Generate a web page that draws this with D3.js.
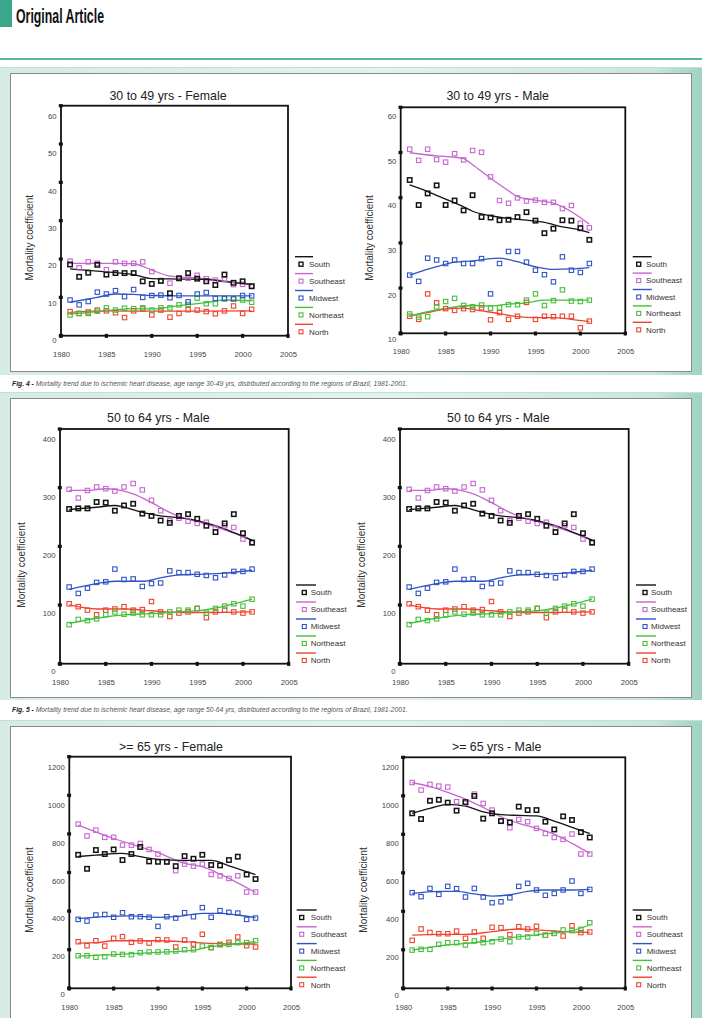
<!DOCTYPE html>
<html>
<head>
<meta charset="utf-8">
<script src="https://cdn.jsdelivr.net/npm/d3@7"></script>
<style>
  body { margin: 0; background: #fff; }
  svg { display: block; }
  text { font-family: "Liberation Sans", Arial, sans-serif; }
</style>
</head>
<body>
<svg id="page" width="702" height="1018"></svg>
<script>
// ---- data ----
const years = [1981, 1982, 1983, 1984, 1985, 1986, 1987, 1988, 1989, 1990, 1991,
               1992, 1993, 1994, 1995, 1996, 1997, 1998, 1999, 2000, 2001];
const xTicks = [1980, 1985, 1990, 1995, 2000, 2005];
const regions = ['South', 'Southeast', 'Midwest', 'Northeast', 'North'];

const titles = ['30 to 49 yrs - Female', '30 to 49 yrs - Male', '50 to 64 yrs - Male',
                '50 to 64 yrs - Male', '>= 65 yrs - Female', '>= 65 yrs - Male'];

// 30-49 female
const f3049 = {
  South:     [20.2, 16.9, 18.0, 20.1, 17.5, 17.9, 17.9, 17.9, 15.7, 15.0, 15.8, 12.5, 16.5, 17.9, 16.4, 15.7, 14.7, 17.5, 15.3, 15.7, 14.4],
  Southeast: [21.1, 19.3, 20.9, 20.5, 18.8, 20.9, 20.5, 20.5, 20.9, 18.3, 15.9, 15.2, 16.5, 16.5, 17.3, 16.4, 16.0, 16.2, 14.8, 14.9, 14.3],
  Midwest:   [10.7, 9.4, 10.3, 12.8, 12.3, 13.2, 11.6, 13.5, 11.4, 11.9, 12.0, 11.3, 11.9, 10.2, 12.3, 12.7, 11.1, 11.1, 11.0, 11.9, 11.8],
  Northeast: [6.7, 7.1, 7.1, 7.7, 8.6, 8.0, 8.5, 8.4, 8.6, 8.0, 8.6, 8.6, 9.4, 9.5, 11.2, 9.7, 9.7, 11.0, 11.0, 10.7, 10.1],
  North:     [7.6, 7.1, 7.5, 8.0, 7.8, 7.3, 6.0, 7.8, 8.3, 6.7, 8.0, 6.1, 7.1, 8.1, 8.0, 7.6, 7.0, 7.8, 9.1, 7.1, 8.2]
};
const f3049Fit = {
  South:     [[1981, 19.0], [1985, 18.2], [1988, 17.5], [1990, 16.4], [1993, 16.3], [1996, 16.2], [1998, 15.6], [2001, 14.9]],
  Southeast: [[1981, 20.5], [1983, 20.5], [1986, 20.5], [1988, 20.4], [1990, 18.7], [1992, 17.1], [1995, 16.6], [1998, 15.8], [2001, 14.7]],
  Midwest:   [[1981, 10.1], [1984, 11.4], [1986, 12.3], [1988, 12.2], [1990, 11.9], [1993, 11.8], [1996, 11.8], [2001, 11.8]],
  Northeast: [[1981, 6.9], [1985, 7.8], [1988, 8.4], [1990, 8.3], [1993, 9.2], [1996, 10.0], [1998, 10.7], [2001, 10.5]],
  North:     [[1981, 7.4], [1985, 7.8], [1990, 7.7], [1995, 7.7], [2001, 7.8]]
};

// 30-49 male
const m3049 = {
  South:     [45.6, 40.0, 42.6, 44.4, 40.0, 41.0, 38.8, 42.2, 37.3, 37.2, 36.6, 36.7, 37.3, 38.4, 36.5, 33.7, 34.7, 36.6, 36.5, 34.8, 32.2],
  Southeast: [52.5, 50.0, 52.5, 50.2, 49.6, 51.5, 50.1, 52.2, 51.8, 46.3, 41.0, 40.4, 41.6, 40.9, 41.1, 40.6, 40.6, 39.2, 39.9, 35.9, 34.9],
  Midwest:   [24.3, 22.9, 28.1, 27.7, 26.9, 27.7, 26.9, 26.9, 28.0, 20.1, 26.9, 29.6, 29.6, 27.2, 25.4, 24.4, 22.8, 28.4, 25.4, 24.9, 26.9],
  Northeast: [15.6, 14.9, 15.0, 17.2, 18.4, 19.1, 17.5, 17.2, 17.6, 16.9, 17.0, 17.7, 17.7, 18.7, 20.1, 17.5, 18.6, 21.0, 18.5, 18.4, 18.7],
  North:     [15.1, 14.4, 20.1, 18.1, 16.8, 16.4, 16.8, 16.6, 17.0, 14.3, 15.9, 14.4, 15.1, 18.2, 14.4, 15.1, 15.0, 15.1, 15.1, 12.5, 14.0]
};
const m3049Fit = {
  South:     [[1981, 44.5], [1983, 43.0], [1985, 41.3], [1987, 39.6], [1988, 38.6], [1990, 37.6], [1992, 37.0], [1994, 36.6], [1996, 36.1], [1998, 35.1], [2000, 34.4], [2001, 33.8]],
  Southeast: [[1981, 51.7], [1984, 51.0], [1986, 50.7], [1987, 50.4], [1988, 49.0], [1990, 46.0], [1992, 43.2], [1993, 41.9], [1995, 41.1], [1997, 40.4], [1999, 38.5], [2001, 35.7]],
  Midwest:   [[1981, 24.3], [1984, 26.2], [1986, 27.2], [1988, 27.5], [1990, 28.0], [1991, 28.1], [1993, 27.3], [1995, 26.2], [1997, 25.6], [1999, 25.7], [2001, 26.0]],
  Northeast: [[1981, 15.2], [1984, 16.5], [1986, 17.2], [1988, 17.5], [1990, 17.4], [1992, 17.8], [1994, 18.1], [1996, 18.7], [1998, 18.7], [2001, 18.7]],
  North:     [[1981, 15.2], [1983, 15.9], [1985, 16.7], [1987, 16.9], [1989, 16.3], [1991, 15.7], [1993, 15.0], [1995, 14.8], [1997, 14.8], [1999, 14.4], [2001, 13.9]]
};

// 50-64 male (printed twice in the figure)
const m5064 = {
  South:     [279, 280, 280, 291, 290, 276, 285, 288, 271, 267, 259, 255, 267, 270, 262, 250, 239, 254, 270, 237, 221],
  Southeast: [313, 298, 311, 317, 314, 310, 317, 323, 312, 294, 276, 259, 263, 258, 254, 256, 246, 250, 247, 227, 220],
  Midwest:   [144, 133, 142, 152, 153, 175, 157, 158, 145, 150, 151, 172, 169, 169, 166, 164, 160, 165, 171, 171, 175],
  Northeast: [79, 88, 86, 89, 96, 101, 97, 99, 96, 96, 96, 101, 104, 104, 107, 99, 107, 111, 115, 111, 123],
  North:     [115, 110, 104, 96, 104, 106, 110, 104, 105, 119, 101, 93, 99, 101, 107, 91, 101, 104, 101, 99, 101]
};
const m5064Fit = {
  South:     [[1981, 278], [1984, 282], [1986, 285], [1987, 282], [1989, 273], [1991, 267], [1993, 264], [1995, 259], [1997, 250], [1999, 238], [2001, 225]],
  Southeast: [[1981, 311], [1983, 311], [1985, 314], [1986, 313], [1987, 310], [1988, 305], [1990, 290], [1992, 273], [1993, 266], [1995, 257], [1997, 248], [1999, 237], [2001, 224]],
  Midwest:   [[1981, 140], [1984, 150], [1986, 154], [1989, 154], [1991, 160], [1993, 165], [1995, 166], [1998, 168], [2001, 173]],
  Northeast: [[1981, 81], [1984, 90], [1987, 96], [1990, 98], [1993, 101], [1996, 105], [1998, 111], [2001, 123]],
  North:     [[1981, 113], [1984, 106], [1987, 106], [1990, 103], [1993, 100], [1996, 100], [2001, 101]]
};

// >= 65 female
const f65 = {
  South:     [735, 661, 760, 739, 763, 707, 739, 776, 700, 698, 698, 675, 728, 714, 735, 681, 679, 707, 725, 631, 607],
  Southeast: [897, 834, 865, 827, 827, 786, 786, 795, 763, 739, 698, 651, 686, 675, 686, 631, 624, 610, 624, 538, 538],
  Midwest:   [394, 385, 417, 420, 405, 429, 408, 408, 405, 357, 408, 401, 429, 408, 456, 405, 440, 431, 427, 394, 401],
  Northeast: [202, 202, 194, 197, 211, 209, 208, 218, 222, 222, 223, 227, 234, 234, 253, 245, 260, 262, 271, 271, 281],
  North:     [276, 255, 281, 253, 294, 303, 273, 280, 269, 287, 285, 248, 285, 264, 315, 245, 262, 273, 301, 255, 248]
};
const f65Fit = {
  South:     [[1981, 726], [1983, 733], [1986, 742], [1988, 725], [1990, 711], [1993, 705], [1996, 705], [1998, 677], [2001, 630]],
  Southeast: [[1981, 892], [1985, 821], [1990, 746], [1993, 690], [1995, 672], [1997, 633], [2001, 536]],
  Midwest:   [[1981, 398], [1984, 408], [1987, 412], [1990, 405], [1992, 408], [1995, 426], [1997, 426], [1999, 417], [2001, 403]],
  Northeast: [[1981, 200], [1985, 208], [1990, 220], [1994, 232], [1996, 250], [1998, 260], [2001, 276]],
  North:     [[1981, 269], [1983, 271], [1985, 281], [1990, 281], [1993, 276], [1996, 267], [1999, 264], [2001, 264]]
};

// >= 65 male
const m65 = {
  South:     [955, 925, 1021, 1026, 1011, 969, 1014, 1046, 927, 955, 914, 907, 990, 972, 972, 911, 870, 939, 920, 856, 828],
  Southeast: [1117, 1077, 1107, 1098, 1093, 1016, 1007, 1056, 1007, 972, 916, 879, 923, 911, 876, 849, 828, 818, 846, 741, 741],
  Midwest:   [538, 517, 560, 529, 571, 559, 515, 560, 515, 485, 490, 511, 571, 587, 552, 524, 534, 552, 599, 534, 555],
  Northeast: [236, 240, 240, 266, 275, 275, 263, 284, 275, 280, 294, 280, 305, 305, 324, 314, 324, 342, 338, 345, 380],
  North:     [287, 347, 329, 322, 322, 336, 298, 331, 298, 356, 354, 317, 359, 347, 361, 314, 324, 310, 364, 328, 331]
};
const m65Fit = {
  South:     [[1981, 955], [1983, 981], [1985, 1002], [1987, 993], [1989, 963], [1991, 948], [1993, 944], [1995, 941], [1997, 914], [1999, 881], [2001, 849]],
  Southeast: [[1981, 1117], [1983, 1095], [1985, 1065], [1987, 1030], [1989, 986], [1991, 937], [1993, 902], [1995, 876], [1997, 846], [1999, 797], [2001, 744]],
  Midwest:   [[1981, 534], [1984, 545], [1986, 545], [1988, 531], [1990, 520], [1992, 527], [1994, 545], [1996, 552], [1999, 552], [2001, 555]],
  Northeast: [[1981, 236], [1985, 263], [1989, 280], [1993, 306], [1996, 321], [1999, 338], [2001, 368]],
  North:     [[1981, 315], [1984, 319], [1987, 319], [1990, 333], [1993, 347], [1995, 342], [1998, 333], [2001, 329]]
};

const captionLabels = ['Fig. 4 - ', 'Fig. 5 - '];
const captionTexts = [
  'Mortality trend due to ischemic heart disease, age range 30-49 yrs, distributed according to the regions of Brazil, 1981-2001.',
  'Mortality trend due to ischemic heart disease, age range 50-64 yrs, distributed according to the regions of Brazil, 1981-2001.'
];

// ---- styles / layout ----
const colors = {
  South: '#141414',
  Southeast: '#c666cf',
  Midwest: '#2f53c4',
  Northeast: '#45bf3c',
  North: '#f0432e'
};

const svg = d3.select('#page');
const narrow = '"Liberation Sans Narrow", "DejaVu Sans Condensed", sans-serif';

// page header
svg.append('rect').attr('x', 0).attr('y', 0).attr('width', 12).attr('height', 27).attr('fill', '#3aa68a');
svg.append('text')
  .attr('x', 16).attr('y', 23)
  .attr('font-family', narrow)
  .attr('font-weight', 'bold').attr('font-size', 21)
  .attr('textLength', 88).attr('lengthAdjust', 'spacingAndGlyphs')
  .attr('fill', '#111')
  .text('Original Article');
svg.append('rect').attr('x', 0).attr('y', 58).attr('width', 702).attr('height', 2).attr('fill', '#5ab59e');

// background gradient for the figure bands
const defs = svg.append('defs');
const grad = defs.append('linearGradient').attr('id', 'band').attr('x1', 0).attr('x2', 1).attr('y1', 0).attr('y2', 0);
grad.append('stop').attr('offset', '0%').attr('stop-color', '#d5ebe3');
grad.append('stop').attr('offset', '55%').attr('stop-color', '#e4f2ed');
grad.append('stop').attr('offset', '93%').attr('stop-color', '#c9e7dc');
grad.append('stop').attr('offset', '100%').attr('stop-color', '#9ed3c1');

const bands = [
  { y0: 67, y1: 375, p0: 73, p1: 371 },
  { y0: 392, y1: 700, p0: 398, p1: 697 },
  { y0: 720, y1: 1018, p0: 726, p1: 1030 }
];
bands.forEach(b => {
  svg.append('rect').attr('x', 0).attr('y', b.y0).attr('width', 702).attr('height', b.y1 - b.y0).attr('fill', 'url(#band)');
  svg.append('rect').attr('x', 0).attr('y', b.y0).attr('width', 702).attr('height', 1).attr('fill', '#bfe2d6');
  svg.append('rect')
    .attr('x', 10.5).attr('y', b.p0 + 0.5)
    .attr('width', 681).attr('height', b.p1 - b.p0)
    .attr('fill', '#fff').attr('stroke', '#8a8a8a').attr('stroke-width', 1);
});

// captions: one text per caption, font size fitted so the line spans ~396px
[386, 712].forEach((cy, i) => {
  const t = svg.append('text')
    .attr('x', 12).attr('y', cy)
    .attr('font-family', narrow)
    .attr('font-size', 10).attr('font-style', 'italic')
    .attr('fill', '#555');
  t.append('tspan').attr('font-weight', 'bold').attr('fill', '#222').text(captionLabels[i]);
  t.append('tspan').text(captionTexts[i]);
  const w = t.node().getComputedTextLength();
  if (w > 0) t.attr('font-size', (10 * 396 / w).toFixed(2));
});

const charts = [
  { data: f3049, fit: f3049Fit, left: 61, right: 288, top: 105.7, bottom: 335.7, yDomain: [0, 60], yStep: 10, yLab: [340, 115.7],
    titleX: 168, titleY: 99.5, xLabY: 354, yTitleX: 29, yTitleY: 237.7,
    leg: { x0: 295, x1: 313, mx: 301, tx: 309, y0: 256.7, step: 16.9 } },
  { data: m3049, fit: m3049Fit, left: 400.7, right: 625.3, top: 107.3, bottom: 333.3, yDomain: [10, 60], yStep: 10, yLab: [339, 115.7],
    titleX: 497.7, titleY: 99.5, xLabY: 351.7, yTitleX: 369, yTitleY: 238,
    leg: { x0: 632.7, x1: 651.7, mx: 638.7, tx: 646, y0: 256.7, step: 16.4 } },
  { data: m5064, fit: m5064Fit, left: 60, right: 288.7, top: 429, bottom: 663.7, yDomain: [0, 400], yStep: 100, yLab: [670.3, 439],
    titleX: 158.3, titleY: 422, xLabY: 682.3, yTitleX: 21.7, yTitleY: 565,
    leg: { x0: 296, x1: 316, mx: 304.3, tx: 310.7, y0: 585, step: 17 } },
  { data: m5064, fit: m5064Fit, left: 400, right: 628.7, top: 429, bottom: 663.7, yDomain: [0, 400], yStep: 100, yLab: [670.3, 439],
    titleX: 498.3, titleY: 422, xLabY: 682.3, yTitleX: 361.7, yTitleY: 565,
    leg: { x0: 636, x1: 656, mx: 645, tx: 651, y0: 585, step: 17 } },
  { data: f65, fit: f65Fit, left: 69.3, right: 291, top: 756.7, bottom: 988.3, yDomain: [0, 1200], yStep: 200, yLab: [994, 766.7],
    titleX: 171, titleY: 750.5, xLabY: 1007.3, yTitleX: 29, yTitleY: 890,
    leg: { x0: 296.7, x1: 316.7, mx: 301.7, tx: 310.7, y0: 910, step: 16.8 } },
  { data: m65, fit: m65Fit, left: 403.3, right: 625.3, top: 757.3, bottom: 988.3, yDomain: [0, 1200], yStep: 200, yLab: [995, 766.7],
    titleX: 496.7, titleY: 750.5, xLabY: 1007.3, yTitleX: 363.3, yTitleY: 890,
    leg: { x0: 632.7, x1: 652, mx: 638.7, tx: 646.7, y0: 910, step: 16.8 } }
];

function drawChart(c, title) {
  const g = svg.append('g');
  const x = d3.scaleLinear().domain([1980, 2005]).range([c.left, c.right]);
  const y = d3.scaleLinear().domain(c.yDomain).range(c.yLab);
  const yFrame = d3.scaleLinear().domain(c.yDomain).range([c.bottom, c.top]);
  const yTicks = d3.range(c.yDomain[0], c.yDomain[1] + 1, c.yStep);

  // title
  g.append('text')
    .attr('x', c.titleX).attr('y', c.titleY)
    .attr('text-anchor', 'middle').attr('font-size', 12.4).attr('fill', '#222')
    .text(title);

  // y axis title
  g.append('text')
    .attr('transform', `translate(${c.yTitleX},${c.yTitleY}) rotate(-90)`)
    .attr('text-anchor', 'middle').attr('dy', '0.35em')
    .attr('font-size', 10).attr('fill', '#333')
    .text('Mortality coefficient');

  // plot frame
  g.append('rect')
    .attr('x', c.left).attr('y', c.top)
    .attr('width', c.right - c.left).attr('height', c.bottom - c.top)
    .attr('fill', 'none').attr('stroke', '#111').attr('stroke-width', 1.8);

  // heavy tick marks on the frame
  g.selectAll('.ytick').data(yTicks).enter().append('rect')
    .attr('x', c.left - 2.2).attr('y', d => yFrame(d) - 1.6)
    .attr('width', 4).attr('height', 3.2).attr('fill', '#111');
  g.selectAll('.xtick').data(xTicks).enter().append('rect')
    .attr('x', d => x(d) - 1.6).attr('y', c.bottom - 1.8)
    .attr('width', 3.2).attr('height', 4).attr('fill', '#111');

  // axis labels
  const ya = g.append('g')
    .attr('transform', `translate(${c.left - 4.5},0)`)
    .call(d3.axisLeft(y).tickValues(yTicks).tickSize(0).tickPadding(0).tickFormat(d3.format('d')));
  ya.select('.domain').remove();
  ya.selectAll('text').attr('font-size', 7.7).attr('fill', '#444')
    .attr('font-family', '"Liberation Sans", Arial, sans-serif').attr('dy', '0.35em');

  const xa = g.append('g')
    .attr('transform', `translate(0,${c.xLabY})`)
    .call(d3.axisBottom(x).tickValues(xTicks).tickSize(0).tickPadding(0).tickFormat(d3.format('d')));
  xa.select('.domain').remove();
  xa.selectAll('text').attr('font-size', 7.7).attr('fill', '#444')
    .attr('font-family', '"Liberation Sans", Arial, sans-serif').attr('y', 0).attr('dy', '0.35em');

  // fitted trend lines
  const line = d3.line().x(d => x(d[0])).y(d => y(d[1])).curve(d3.curveMonotoneX);
  regions.slice().reverse().forEach(r => {
    g.append('path')
      .datum(c.fit[r])
      .attr('d', line)
      .attr('fill', 'none')
      .attr('stroke', colors[r])
      .attr('stroke-width', 1.3);
  });

  // observed points
  regions.slice().reverse().forEach(r => {
    g.selectAll(null).data(c.data[r]).enter().append('rect')
      .attr('x', (d, i) => x(years[i]) - 2.2)
      .attr('y', d => y(d) - 2.2)
      .attr('width', 4.4).attr('height', 4.4)
      .attr('fill', 'none')
      .attr('stroke', colors[r])
      .attr('stroke-width', r === 'South' ? 1.5 : 1.1);
  });

  // legend
  const lg = g.append('g');
  regions.forEach((r, i) => {
    const ly = c.leg.y0 + i * c.leg.step;
    lg.append('line')
      .attr('x1', c.leg.x0).attr('x2', c.leg.x1).attr('y1', ly).attr('y2', ly)
      .attr('stroke', colors[r]).attr('stroke-width', 1.4);
    lg.append('rect')
      .attr('x', c.leg.mx - 2).attr('y', ly + 7.5 - 2)
      .attr('width', 4).attr('height', 4)
      .attr('fill', 'none').attr('stroke', colors[r])
      .attr('stroke-width', r === 'South' ? 1.4 : 1.1);
    lg.append('text')
      .attr('x', c.leg.tx).attr('y', ly + 7.5).attr('dy', '0.35em')
      .attr('font-size', 8).attr('fill', '#333')
      .text(r);
  });
}

charts.forEach((c, i) => drawChart(c, titles[i]));
</script>
</body>
</html>
